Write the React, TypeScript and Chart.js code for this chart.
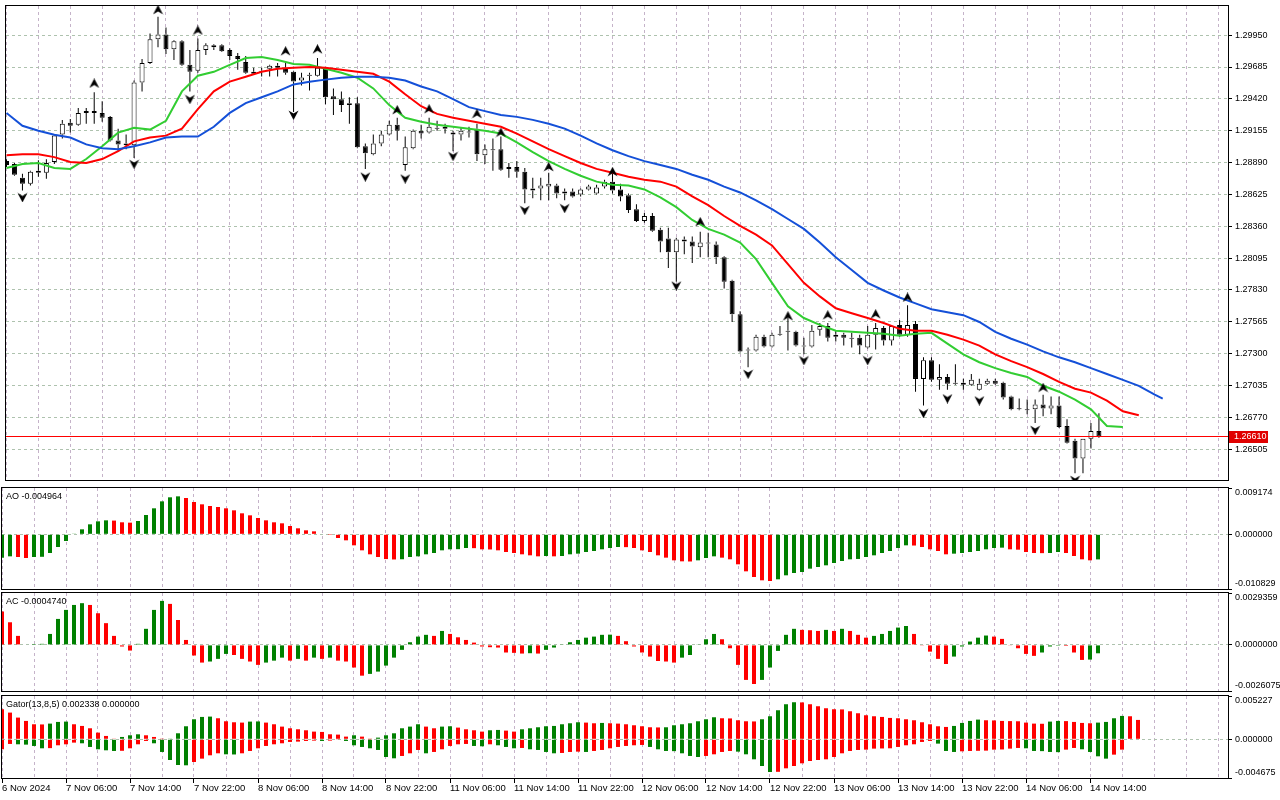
import { useEffect, useRef } from "react";
import { Chart, registerables } from "chart.js";

Chart.register(...registerables);

// ---------------- data (H1 bars, 6 Nov 22:00 .. 14 Nov 15:00) ----------------
const OPEN = [
  1.28902, 1.28877, 1.28764, 1.28714, 1.28821, 1.28805, 1.28894, 1.29123, 1.29221, 1.29205,
  1.29302, 1.29319, 1.29302, 1.2927, 1.29074, 1.29049, 1.29033, 1.29556, 1.29719, 1.29915,
  1.29956, 1.29833, 1.29899, 1.29703, 1.29654, 1.29826, 1.2985, 1.29866, 1.29826, 1.29776,
  1.29727, 1.29646, 1.29654, 1.2967, 1.29695, 1.29678, 1.29646, 1.29572, 1.29613, 1.29613,
  1.2967, 1.29441, 1.29417, 1.29368, 1.29384, 1.29025, 1.2896, 1.29049, 1.29123, 1.29205,
  1.28869, 1.29009, 1.29155, 1.29139, 1.2918, 1.29188, 1.29139, 1.29123, 1.29147, 1.29172,
  1.28951, 1.29, 1.29, 1.28837, 1.28853, 1.28813, 1.28674, 1.28674, 1.2869, 1.28698,
  1.28649, 1.28649, 1.28625, 1.28666, 1.28633, 1.2869, 1.28731, 1.28666, 1.28617, 1.28502,
  1.28404, 1.28445, 1.28331, 1.28257, 1.28143, 1.28249, 1.28233, 1.28184, 1.28225, 1.28208,
  1.28102, 1.27906, 1.27628, 1.27334, 1.27326, 1.27441, 1.27359, 1.27465, 1.2749, 1.27481,
  1.27367, 1.27359, 1.27498, 1.2753, 1.27441, 1.27457, 1.27432, 1.27432, 1.27351, 1.27457,
  1.27514, 1.27408, 1.27539, 1.27457, 1.27547, 1.27089, 1.27245, 1.27082, 1.27106, 1.27057,
  1.27057, 1.27041, 1.27, 1.27049, 1.27074, 1.27057, 1.26942, 1.26844, 1.26836, 1.26836,
  1.26877, 1.26844, 1.26869, 1.26697, 1.26575, 1.26428, 1.26591, 1.26656,
];
const HIGH = [
  1.28918, 1.28886, 1.28796, 1.28821, 1.2891, 1.28918, 1.29123, 1.29245, 1.29253, 1.29343,
  1.29343, 1.29474, 1.294, 1.29278, 1.29172, 1.29123, 1.29572, 1.29752, 1.29964, 1.30103,
  1.30013, 1.29907, 1.29907, 1.29826, 1.29923, 1.29882, 1.29874, 1.29874, 1.29842, 1.29801,
  1.29776, 1.29678, 1.29678, 1.29703, 1.29719, 1.29736, 1.29654, 1.29637, 1.29637, 1.2976,
  1.29678, 1.29507, 1.29482, 1.29433, 1.29433, 1.29049, 1.29123, 1.29155, 1.29237, 1.29262,
  1.29107, 1.29164, 1.29205, 1.29262, 1.29237, 1.29213, 1.29155, 1.2918, 1.29188, 1.29213,
  1.29041, 1.2909, 1.29107, 1.28886, 1.28902, 1.28845, 1.28764, 1.28764, 1.28805, 1.28714,
  1.28674, 1.28674, 1.28674, 1.28706, 1.28706, 1.28747, 1.28805, 1.28714, 1.28633, 1.28543,
  1.2847, 1.2847, 1.28347, 1.28347, 1.28265, 1.28274, 1.28274, 1.28314, 1.28306, 1.28233,
  1.2811, 1.27914, 1.27653, 1.27351, 1.27457, 1.27457, 1.27473, 1.2753, 1.27596, 1.2749,
  1.27432, 1.27539, 1.27555, 1.27555, 1.2749, 1.27473, 1.27473, 1.27457, 1.2753, 1.27555,
  1.2753, 1.27539, 1.27579, 1.27702, 1.27571, 1.27269, 1.27269, 1.27212, 1.27131, 1.27212,
  1.2709, 1.27131, 1.2709, 1.2709, 1.2709, 1.27065, 1.2695, 1.26926, 1.26917, 1.26917,
  1.26958, 1.26942, 1.26942, 1.26754, 1.26591, 1.26591, 1.26722, 1.26803,
];
const LOW = [
  1.28853, 1.2878, 1.28657, 1.28698, 1.28772, 1.28756, 1.28877, 1.2909, 1.29139, 1.29196,
  1.29213, 1.29213, 1.29229, 1.29066, 1.28984, 1.29, 1.28927, 1.29482, 1.29711, 1.2985,
  1.29793, 1.29744, 1.29695, 1.29482, 1.29637, 1.29785, 1.29826, 1.29809, 1.29744, 1.29662,
  1.29629, 1.29621, 1.29605, 1.29605, 1.29605, 1.29621, 1.29311, 1.29531, 1.2949, 1.29605,
  1.29376, 1.29286, 1.29311, 1.29213, 1.29009, 1.28837, 1.28951, 1.29025, 1.29115, 1.29074,
  1.28821, 1.29, 1.2909, 1.29131, 1.29155, 1.29131, 1.28984, 1.29074, 1.29098, 1.28902,
  1.28877, 1.28821, 1.28821, 1.28764, 1.28764, 1.28551, 1.28592, 1.28576, 1.28576, 1.28592,
  1.28576, 1.286, 1.28608, 1.28657, 1.28625, 1.28674, 1.28633, 1.28567, 1.2847, 1.28396,
  1.28388, 1.28314, 1.28143, 1.28012, 1.27898, 1.28127, 1.28053, 1.28102, 1.28102, 1.28045,
  1.27841, 1.27563, 1.2731, 1.27187, 1.27318, 1.27351, 1.27351, 1.27449, 1.27326, 1.27359,
  1.27294, 1.27351, 1.27449, 1.274, 1.274, 1.27367, 1.27351, 1.27294, 1.27343, 1.27334,
  1.27367, 1.27367, 1.27441, 1.27441, 1.26983, 1.26869, 1.27065, 1.27, 1.27, 1.27041,
  1.27, 1.27032, 1.26992, 1.27041, 1.27041, 1.26917, 1.26828, 1.26828, 1.26795, 1.26722,
  1.26779, 1.26795, 1.26681, 1.26551, 1.26305, 1.26305, 1.2651, 1.266,
];
const CLOSE = [
  1.28869, 1.28788, 1.28714, 1.28813, 1.28805, 1.28886, 1.29115, 1.29213, 1.29196, 1.29302,
  1.29319, 1.29302, 1.29262, 1.29074, 1.29041, 1.29033, 1.29556, 1.29719, 1.29915, 1.29956,
  1.29833, 1.29899, 1.29703, 1.29646, 1.29826, 1.29866, 1.29866, 1.29817, 1.29776, 1.29752,
  1.29637, 1.29629, 1.29646, 1.29695, 1.29678, 1.29637, 1.29564, 1.29597, 1.29621, 1.29678,
  1.29433, 1.29417, 1.29368, 1.29384, 1.29017, 1.28968, 1.29049, 1.29123, 1.29205, 1.29155,
  1.29017, 1.29155, 1.29131, 1.29188, 1.29172, 1.29172, 1.29123, 1.29155, 1.29139, 1.2896,
  1.29, 1.28992, 1.28829, 1.28853, 1.28813, 1.28666, 1.28657, 1.28698, 1.28714, 1.28633,
  1.28633, 1.28608, 1.28666, 1.2869, 1.28682, 1.28731, 1.28657, 1.28608, 1.28494, 1.28404,
  1.28445, 1.28322, 1.28233, 1.28143, 1.28249, 1.28233, 1.28192, 1.28225, 1.28217, 1.28102,
  1.27898, 1.27628, 1.27318, 1.27326, 1.27441, 1.27359, 1.27457, 1.27457, 1.27481, 1.27367,
  1.27359, 1.2749, 1.2753, 1.27432, 1.27457, 1.27432, 1.27424, 1.27367, 1.27457, 1.27514,
  1.27408, 1.2753, 1.27457, 1.27539, 1.27089, 1.27245, 1.27082, 1.27106, 1.27049, 1.27049,
  1.27041, 1.27082, 1.27049, 1.27074, 1.27049, 1.26934, 1.26836, 1.26836, 1.26828, 1.26877,
  1.26844, 1.26869, 1.26689, 1.26559, 1.26428, 1.26591, 1.26656, 1.2661,
];

// Alligator lines as drawn (already shifted forward), one value every LINE_STEP bars
const LINE_STEP = 2;
const JAW = [
  1.29303, 1.29196, 1.29155, 1.29122, 1.29098, 1.29041, 1.29009, 1.29001, 1.29025, 1.29058,
  1.29098, 1.29106, 1.29106, 1.29188, 1.29303, 1.29384, 1.29433, 1.29482, 1.2954, 1.29563,
  1.2958, 1.29596, 1.29604, 1.29604, 1.29596, 1.29572, 1.29523, 1.29482, 1.29417, 1.29351,
  1.29318, 1.29286, 1.2927, 1.29245, 1.29213, 1.29172, 1.29114, 1.2905, 1.28992, 1.28943,
  1.28902, 1.28869, 1.28837, 1.28788, 1.28747, 1.2869, 1.28641, 1.28576, 1.28502, 1.2842,
  1.28338, 1.28224, 1.28102, 1.27996, 1.27889, 1.27825, 1.27767, 1.27718, 1.27669, 1.27645,
  1.2762, 1.27563, 1.27481, 1.27424, 1.27375, 1.27318, 1.27269, 1.27228, 1.27179, 1.2713,
  1.27081, 1.27032, 1.26959,
];
const JAW_END_BAR = 145;
const JAW_END_VALUE = 1.26926;
const TEETH = [
  1.28951, 1.28959, 1.28959, 1.28935, 1.28894, 1.28886, 1.28919, 1.28984, 1.29066, 1.29098,
  1.29114, 1.29172, 1.29335, 1.29482, 1.29563, 1.29604, 1.29645, 1.2967, 1.29678, 1.29686,
  1.29678, 1.29662, 1.29645, 1.29629, 1.29563, 1.29458, 1.29359, 1.29295, 1.29262, 1.29237,
  1.29213, 1.29188, 1.29131, 1.29066, 1.29001, 1.28943, 1.28886, 1.28837, 1.28805, 1.28772,
  1.28747, 1.28731, 1.2869, 1.28608, 1.28535, 1.28445, 1.28363, 1.2829, 1.282, 1.28045,
  1.27889, 1.27776, 1.27677, 1.27636, 1.27596, 1.27555, 1.27506, 1.2749, 1.2749, 1.27457,
  1.27416, 1.27367, 1.27294, 1.27237, 1.27187, 1.2713, 1.27065, 1.27008, 1.26975, 1.26909,
  1.2682, 1.26787,
];
const LIPS = [
  1.28845, 1.28877, 1.28886, 1.28845, 1.28837, 1.28919, 1.29025, 1.29139, 1.2918, 1.29164,
  1.29237, 1.29482, 1.29612, 1.29645, 1.29703, 1.2976, 1.29768, 1.29744, 1.29711, 1.29703,
  1.2967, 1.29637, 1.29596, 1.29507, 1.29368, 1.29262, 1.29229, 1.29205, 1.29188, 1.29172,
  1.29155, 1.29131, 1.29058, 1.28976, 1.28902, 1.28837, 1.2878, 1.28731, 1.28706, 1.28698,
  1.28666, 1.286, 1.28519, 1.28412, 1.28338, 1.2829, 1.28224, 1.28086, 1.27889, 1.27693,
  1.27596, 1.27539, 1.2749, 1.27481, 1.27473, 1.27465, 1.27449, 1.27465, 1.27473, 1.27383,
  1.27294, 1.27228, 1.27179, 1.27138, 1.27106, 1.27032, 1.26983, 1.26917, 1.26836, 1.26697,
  1.26689,
];

// Fractal markers: bar index and price of the arrow
const FRACTAL_UP_BARS = [11, 19, 24, 35, 39, 49, 53, 59, 62, 68, 76, 87, 98, 103, 109, 113, 130];
const FRACTAL_UP_MARKS = [
  1.29548, 1.3016, 1.29989, 1.29817, 1.29833, 1.29327, 1.29335, 1.29295, 1.29139, 1.28853,
  1.28813, 1.28396, 1.27612, 1.2762, 1.27628, 1.27767, 1.27016,
];
const FRACTAL_DOWN_BARS = [2, 16, 23, 36, 45, 50, 56, 65, 70, 84, 93, 100, 108, 115, 118, 122, 129, 134];
const FRACTAL_DOWN_MARKS = [
  1.286, 1.28877, 1.29417, 1.29286, 1.28772, 1.28756, 1.28943, 1.28494, 1.2851, 1.27865,
  1.2713, 1.27244, 1.27244, 1.26804, 1.26926, 1.26909, 1.26664, 1.26248,
];

const AO = [
  -0.00462, -0.00436, -0.00449, -0.00469, -0.00449, -0.00445, -0.0037, -0.00251, -0.00132, 0.00013,
  0.00099, 0.00198, 0.00257, 0.00277, 0.00272, 0.00238, 0.00231, 0.00264, 0.00383, 0.00515,
  0.00653, 0.00733, 0.00752, 0.00719, 0.0064, 0.00594, 0.00561, 0.00541, 0.00515, 0.00475,
  0.00416, 0.00376, 0.00323, 0.00277, 0.00238, 0.00218, 0.00165, 0.00119, 0.00079, 0.00059,
  0.0001, -0.00002, -0.00073, -0.00119, -0.00218, -0.00317, -0.00396, -0.00449, -0.0049, -0.00498,
  -0.00494, -0.00449, -0.00436, -0.00396, -0.0037, -0.00317, -0.00297, -0.00294, -0.00271, -0.00274,
  -0.00297, -0.003, -0.00317, -0.0035, -0.0037, -0.00396, -0.00416, -0.00436, -0.00429, -0.00436,
  -0.00429, -0.00396, -0.00383, -0.0035, -0.0033, -0.00297, -0.00271, -0.00251, -0.00254, -0.00271,
  -0.00317, -0.0035, -0.00416, -0.00462, -0.00515, -0.00535, -0.00538, -0.00515, -0.00469, -0.00436,
  -0.00462, -0.00495, -0.00594, -0.00733, -0.00845, -0.00911, -0.00924, -0.00891, -0.00812, -0.00766,
  -0.00746, -0.0068, -0.00647, -0.00614, -0.00568, -0.00528, -0.00495, -0.00488, -0.00449, -0.00416,
  -0.0037, -0.0033, -0.00271, -0.00218, -0.00222, -0.00251, -0.00297, -0.0033, -0.00396, -0.00383,
  -0.0037, -0.0035, -0.0033, -0.00297, -0.00271, -0.00264, -0.00297, -0.00304, -0.0035, -0.0037,
  -0.00373, -0.0037, -0.0035, -0.0037, -0.00429, -0.00495, -0.00515, -0.004964,
];
const AO_BEFORE = -0.0047;

const AC = [
  0.00189, 0.00128, 0.00051, 0.00003, 0.00005, 0.00006, 0.00062, 0.00147, 0.00198, 0.00226,
  0.00236, 0.00226, 0.00179, 0.00123, 0.00051, -0.00009, -0.00032, 0.00006, 0.00091, 0.00198,
  0.00249, 0.00232, 0.00141, 0.00028, -0.0006, -0.001, -0.00094, -0.00079, -0.00051, -0.00057,
  -0.00079, -0.00094, -0.00113, -0.001, -0.00089, -0.00072, -0.00089, -0.00079, -0.00089, -0.00072,
  -0.00079, -0.00072, -0.00089, -0.00094, -0.00128, -0.00174, -0.00164, -0.00151, -0.00117, -0.00072,
  -0.00028, 0.00015, 0.00047, 0.00057, 0.00051, 0.00079, 0.00062, 0.00043, 0.00028, 0.00013,
  -0.00009, -0.00013, -0.00015, -0.00043, -0.00045, -0.00049, -0.00047, -0.00049, -0.00028, -0.00015,
  0.00002, 0.00015, 0.00028, 0.00041, 0.00047, 0.00057, 0.00058, 0.00051, 0.00021, -0.00009,
  -0.00043, -0.00066, -0.00091, -0.00094, -0.001, -0.00072, -0.00057, 0.00002, 0.00032, 0.00062,
  0.00032, -0.00019, -0.00113, -0.00198, -0.00221, -0.00198, -0.00128, -0.00034, 0.00057, 0.00091,
  0.00085, 0.00083, 0.00079, 0.00085, 0.00079, 0.00091, 0.00079, 0.00057, 0.00041, 0.00051,
  0.00062, 0.00079, 0.00098, 0.00107, 0.00062, -0.00004, -0.00038, -0.00079, -0.00108, -0.00066,
  -0.00009, 0.00019, 0.00041, 0.00053, 0.00047, 0.00034, -0.00002, -0.00019, -0.00051, -0.00062,
  -0.00043, -0.00009, -0.00005, -0.00006, -0.00043, -0.00085, -0.00083, -0.000474,
];
const AC_BEFORE = 0.002;

const GATOR_UP = [
  0.003627, 0.003224, 0.00262, 0.002217, 0.001814, 0.001793, 0.001894, 0.002096, 0.002136, 0.001814,
  0.001612, 0.00133, 0.000806, 0.000403, 0.000081, 0.000282, 0.000484, 0.000605, 0.000484, 0.000282,
  0.00002, 0.00004, 0.000725, 0.001572, 0.002418, 0.0027, 0.00274, 0.002539, 0.002176, 0.002055,
  0.002015, 0.002136, 0.002156, 0.002015, 0.001814, 0.001531, 0.00133, 0.001209, 0.001088, 0.000927,
  0.000887, 0.000605, 0.000564, 0.000322, 0.000484, 0.000322, 0.00001, 0.000202, 0.000484, 0.000725,
  0.00133, 0.001531, 0.001814, 0.001531, 0.00133, 0.001531, 0.001572, 0.001411, 0.001209, 0.001088,
  0.000927, 0.001088, 0.001128, 0.001048, 0.000927, 0.001209, 0.00133, 0.001451, 0.001572, 0.001612,
  0.001814, 0.001934, 0.002055, 0.002015, 0.001934, 0.001975, 0.001934, 0.001894, 0.001814, 0.001693,
  0.001572, 0.001451, 0.001431, 0.001451, 0.001693, 0.001814, 0.001934, 0.002176, 0.002418, 0.00266,
  0.002539, 0.002519, 0.002297, 0.002176, 0.002156, 0.002418, 0.002781, 0.003506, 0.004232, 0.004473,
  0.004453, 0.004232, 0.00399, 0.003748, 0.003627, 0.003607, 0.003385, 0.003143, 0.002902, 0.002781,
  0.0027, 0.002579, 0.002539, 0.002418, 0.002297, 0.002055, 0.001814, 0.001572, 0.001491, 0.001612,
  0.001975, 0.002217, 0.002378, 0.002297, 0.002277, 0.002217, 0.002196, 0.002176, 0.002015, 0.001894,
  0.001874, 0.002136, 0.002217, 0.002196, 0.002096, 0.001975, 0.001934, 0.002015, 0.002096, 0.002539,
  0.002821, 0.002781, 0.002338,
];
const GATOR_DOWN = [
  -0.001209, -0.000564, -0.000605, -0.000645, -0.000806, -0.001088, -0.001068, -0.000725, -0.000605, -0.000403,
  -0.000484, -0.000927, -0.001209, -0.00133, -0.001411, -0.00139, -0.001088, -0.000605, -0.000202, -0.000484,
  -0.001531, -0.002499, -0.003103, -0.003143, -0.00274, -0.002337, -0.001934, -0.001693, -0.001814, -0.001834,
  -0.001693, -0.001411, -0.001088, -0.000806, -0.000605, -0.000484, -0.000322, -0.000282, -0.000202, -0.000161,
  -0.000202, -0.000161, -0.000081, -0.000202, -0.000725, -0.000927, -0.001088, -0.00129, -0.002136, -0.002297,
  -0.002015, -0.001693, -0.00129, -0.001693, -0.001531, -0.001209, -0.000806, -0.000605, -0.000564, -0.000806,
  -0.000846, -0.000605, -0.000725, -0.000927, -0.001088, -0.001048, -0.001209, -0.00129, -0.001531, -0.001693,
  -0.001652, -0.001531, -0.001491, -0.001531, -0.001411, -0.00129, -0.001088, -0.000927, -0.000806, -0.000725,
  -0.000685, -0.000927, -0.001209, -0.001411, -0.001431, -0.001693, -0.002015, -0.002136, -0.002015, -0.001814,
  -0.001531, -0.001411, -0.001491, -0.001814, -0.002418, -0.003224, -0.003949, -0.003929, -0.003506, -0.003224,
  -0.002902, -0.00262, -0.002499, -0.002418, -0.002136, -0.001693, -0.001411, -0.00129, -0.001249, -0.001128,
  -0.001108, -0.001088, -0.000927, -0.000725, -0.000605, -0.000322, -0.000202, -0.000524, -0.001411, -0.001531,
  -0.001451, -0.001411, -0.00139, -0.00137, -0.001249, -0.001229, -0.001128, -0.001048, -0.001088, -0.001411,
  -0.001431, -0.001531, -0.001552, -0.001249, -0.001048, -0.001209, -0.001531, -0.002055, -0.002337, -0.001854,
  -0.001249,
];
const GATOR_UP_BEFORE = 0.0038;
const GATOR_DOWN_BEFORE = -0.0013;

const TIME_LABEL_BARS = [0, 8, 16, 24, 32, 40, 48, 56, 64, 72, 80, 88, 96, 104, 112, 120, 128, 136];
const TIME_LABELS = [
  "6 Nov 2024", "7 Nov 06:00", "7 Nov 14:00", "7 Nov 22:00", "8 Nov 06:00", "8 Nov 14:00",
  "8 Nov 22:00", "11 Nov 06:00", "11 Nov 14:00", "11 Nov 22:00", "12 Nov 06:00", "12 Nov 14:00",
  "12 Nov 22:00", "13 Nov 06:00", "13 Nov 14:00", "13 Nov 22:00", "14 Nov 06:00", "14 Nov 14:00",
];
const PRICE_TICKS = [
  1.26505, 1.2677, 1.27035, 1.273, 1.27565, 1.2783, 1.28095, 1.2836, 1.28625, 1.2889,
  1.29155, 1.2942, 1.29685, 1.2995,
];
const PRICE_MIN = 1.262481;
const PRICE_MAX = 1.301927;
const AO_MIN = -0.010829, AO_MAX = 0.009174;
const AC_MIN = -0.0026075, AC_MAX = 0.0029359;
const GATOR_MIN = -0.004675, GATOR_MAX = 0.005227;

// ---------------- styling / layout ----------------
const FAMILY = '"Liberation Sans", Arial, Helvetica, sans-serif';
const GREEN = "#008000";
const RED = "#ff0000";
const JAW_COLOR = "#1450d8";
const TEETH_COLOR = "#ff0000";
const LIPS_COLOR = "#32cd32";
const GRID_V = "#c5b3c9";
const GRID_H = "#aec2ae";
const CANVAS_W = 1280;
const AXIS_W = 52;
const PLOT_LEFT = 2;
const BAR_PX = 8;
const PLOT_W = CANVAS_W - AXIS_W - PLOT_LEFT;
const X_MIN_MAIN = -0.0625;
const X_MIN_SUB = 0;
const GRID_BARS = Array.from({ length: 39 }, (_, k) => k * 4);

Chart.defaults.font.family = FAMILY;

function riseColors(vals: number[], before: number, useAbs: boolean) {
  return vals.map((v, i) => {
    const prev = i === 0 ? before : vals[i - 1];
    const a = useAbs ? Math.abs(v) : v;
    const b = useAbs ? Math.abs(prev) : prev;
    return a > b ? GREEN : RED;
  });
}

function makeX(xMin: number, withLabels: boolean): any {
  return {
    type: "linear",
    position: "bottom",
    min: xMin,
    max: xMin + PLOT_W / BAR_PX,
    bounds: "data",
    offset: false,
    afterBuildTicks: (s: any) => {
      s.ticks = GRID_BARS.map((v) => ({ value: v }));
    },
    afterFit: (s: any) => {
      s.height = withLabels ? 22 : 0;
      s.paddingLeft = 0;
      s.paddingRight = 0;
    },
    grid: {
      display: true,
      color: GRID_V,
      lineWidth: 1,
      offset: false,
      drawOnChartArea: true,
      drawTicks: withLabels,
      tickLength: 5,
      tickWidth: 1,
      tickColor: (c: any) =>
        c.tick && TIME_LABEL_BARS.includes(c.tick.value) ? "#000000" : "rgba(0,0,0,0)",
    },
    border: { display: false, dash: [3, 3] },
    ticks: {
      display: withLabels,
      autoSkip: false,
      maxRotation: 0,
      minRotation: 0,
      align: "start",
      padding: 0,
      color: "#000000",
      font: { family: FAMILY, size: 9.5 },
      callback: (v: number) => {
        const k = TIME_LABEL_BARS.indexOf(v);
        return k >= 0 ? TIME_LABELS[k] : "";
      },
    },
  };
}

function makeSubY(min: number, max: number): any {
  return {
    type: "linear",
    position: "right",
    min,
    max,
    bounds: "data",
    afterBuildTicks: (s: any) => {
      s.ticks = [min, 0, max].map((v) => ({ value: v }));
    },
    afterFit: (s: any) => {
      s.width = AXIS_W;
      s.paddingTop = 0;
      s.paddingBottom = 0;
    },
    grid: {
      color: (c: any) => (c.tick && c.tick.value === 0 ? GRID_H : "rgba(0,0,0,0)"),
      drawTicks: true,
      tickLength: 4,
      tickColor: "#000000",
    },
    border: { display: false, dash: [3, 3] },
    ticks: { display: false },
  };
}

const framePlugin = {
  id: "frame",
  afterDraw(chart: any) {
    const { ctx, chartArea: a } = chart;
    ctx.save();
    ctx.strokeStyle = "#000000";
    ctx.lineWidth = 1;
    ctx.strokeRect(a.left - 0.5, a.top - 0.5, a.right - a.left + 1, a.bottom - a.top + 1);
    ctx.restore();
  },
};

function panelTextPlugin(title: string, min: number, max: number, decimals: number) {
  return {
    id: "panelText",
    afterDraw(chart: any) {
      const { ctx, chartArea: a, scales } = chart;
      ctx.save();
      ctx.font = `9px ${FAMILY}`;
      ctx.fillStyle = "#000000";
      ctx.textAlign = "left";
      ctx.textBaseline = "middle";
      ctx.fillText(title, 6, a.top + 9);
      const x = a.right + 7;
      ctx.fillText(max.toFixed(decimals), x, a.top + 5);
      ctx.fillText((0).toFixed(decimals), x, scales.y.getPixelForValue(0));
      ctx.fillText(min.toFixed(decimals), x, a.bottom - 5);
      ctx.restore();
    },
  };
}

function arrowImage(up: boolean) {
  const c = document.createElement("canvas");
  c.width = 11;
  c.height = 10;
  const g = c.getContext("2d") as CanvasRenderingContext2D;
  g.fillStyle = "#000000";
  g.beginPath();
  if (up) {
    g.moveTo(5.5, 0);
    g.lineTo(10.5, 9.5);
    g.lineTo(5.5, 6.5);
    g.lineTo(0.5, 9.5);
  } else {
    g.moveTo(5.5, 10);
    g.lineTo(10.5, 0.5);
    g.lineTo(5.5, 3.5);
    g.lineTo(0.5, 0.5);
  }
  g.closePath();
  g.fill();
  return c;
}

const commonOptions: any = {
  responsive: false,
  animation: false,
  events: [],
  plugins: { legend: { display: false }, tooltip: { enabled: false } },
};

export default function App() {
  const mainRef = useRef<HTMLCanvasElement>(null);
  const aoRef = useRef<HTMLCanvasElement>(null);
  const acRef = useRef<HTMLCanvasElement>(null);
  const gatorRef = useRef<HTMLCanvasElement>(null);

  useEffect(() => {
    const charts: Chart[] = [];
    const bars = OPEN.map((_, i) => i);
    const lastPrice = CLOSE[CLOSE.length - 1];
    const bodyTop = (i: number) => Math.max(OPEN[i], CLOSE[i]);
    const bodyBottom = (i: number) => Math.min(OPEN[i], CLOSE[i]);

    const pricePlugin = {
      id: "priceTag",
      afterDraw(chart: any) {
        const { ctx, chartArea: a, scales } = chart;
        const y = Math.round(scales.y.getPixelForValue(lastPrice));
        ctx.save();
        ctx.fillStyle = "#e00000";
        ctx.fillRect(a.right + 1, y - 6, 39, 12);
        ctx.fillStyle = "#ffffff";
        ctx.font = `9px ${FAMILY}`;
        ctx.textAlign = "left";
        ctx.textBaseline = "middle";
        ctx.fillText(lastPrice.toFixed(5), a.right + 6, y);
        ctx.restore();
      },
    };

    const xMainMax = X_MIN_MAIN + PLOT_W / BAR_PX;
    const lineDs = (vals: number[], color: string, end?: { x: number; y: number }) => {
      const pts = vals.map((v, k) => ({ x: k * LINE_STEP, y: v }));
      if (end) pts.push(end);
      return {
        type: "line",
        data: pts,
        borderColor: color,
        borderWidth: 2,
        pointRadius: 0,
        tension: 0,
        order: 2,
      };
    };
    const wickDs = (data: any[]) => ({
      type: "bar",
      data,
      backgroundColor: "#000000",
      borderWidth: 0,
      barThickness: 1,
      grouped: false,
      inflateAmount: 0,
      order: 6,
    });

    charts.push(
      new Chart(mainRef.current as HTMLCanvasElement, {
        type: "bar",
        data: {
          datasets: [
            wickDs(bars.map((i) => ({ x: i, y: [bodyTop(i), HIGH[i]] }))),
            wickDs(bars.map((i) => ({ x: i, y: [LOW[i], bodyBottom(i)] }))),
            {
              type: "bar",
              data: bars.map((i) => ({ x: i, y: [OPEN[i], CLOSE[i]] })),
              backgroundColor: bars.map((i) => (CLOSE[i] > OPEN[i] ? "#ffffff" : "#000000")),
              borderColor: "#000000",
              borderWidth: 1,
              borderSkipped: false,
              barThickness: 5,
              minBarLength: 1,
              grouped: false,
              inflateAmount: 0,
              order: 5,
            },
            {
              type: "line",
              data: [
                { x: X_MIN_MAIN, y: lastPrice },
                { x: xMainMax, y: lastPrice },
              ],
              borderColor: "#ff0000",
              borderWidth: 1,
              pointRadius: 0,
              order: 4,
            },
            lineDs(JAW, JAW_COLOR, { x: JAW_END_BAR, y: JAW_END_VALUE }),
            lineDs(TEETH, TEETH_COLOR),
            lineDs(LIPS, LIPS_COLOR),
            {
              type: "line",
              showLine: false,
              data: FRACTAL_UP_BARS.map((b, k) => ({ x: b, y: FRACTAL_UP_MARKS[k] })),
              pointStyle: arrowImage(true),
              pointRadius: 5,
              order: 1,
            },
            {
              type: "line",
              showLine: false,
              data: FRACTAL_DOWN_BARS.map((b, k) => ({ x: b, y: FRACTAL_DOWN_MARKS[k] })),
              pointStyle: arrowImage(false),
              pointRadius: 5,
              order: 1,
            },
          ] as any,
        },
        options: {
          ...commonOptions,
          layout: { padding: { left: PLOT_LEFT, top: 2, right: 0, bottom: 1 } },
          scales: {
            x: makeX(X_MIN_MAIN, false),
            y: {
              type: "linear",
              position: "right",
              min: PRICE_MIN,
              max: PRICE_MAX,
              bounds: "data",
              afterBuildTicks: (s: any) => {
                s.ticks = PRICE_TICKS.map((v) => ({ value: v }));
              },
              afterFit: (s: any) => {
                s.width = AXIS_W;
                s.paddingTop = 0;
                s.paddingBottom = 0;
              },
              grid: { color: GRID_H, drawTicks: true, tickLength: 4, tickColor: "#000000" },
              border: { display: false, dash: [3, 3] },
              ticks: {
                padding: 3,
                color: "#000000",
                font: { family: FAMILY, size: 9 },
                callback: (v: number) => v.toFixed(5),
              },
            },
          },
        },
        plugins: [framePlugin, pricePlugin],
      } as any)
    );

    const histDs = (vals: number[], colors: string[]) => ({
      data: vals.map((v, i) => ({ x: i, y: v })),
      backgroundColor: colors,
      borderWidth: 0,
      barThickness: 4,
      grouped: false,
      inflateAmount: 0,
    });

    charts.push(
      new Chart(aoRef.current as HTMLCanvasElement, {
        type: "bar",
        data: { datasets: [histDs(AO, riseColors(AO, AO_BEFORE, false))] },
        options: {
          ...commonOptions,
          layout: { padding: { left: PLOT_LEFT, top: 2, right: 0, bottom: 2 } },
          scales: { x: makeX(X_MIN_SUB, false), y: makeSubY(AO_MIN, AO_MAX) },
        },
        plugins: [
          framePlugin,
          panelTextPlugin(`AO ${AO[AO.length - 1].toFixed(6)}`, AO_MIN, AO_MAX, 6),
        ],
      } as any)
    );

    charts.push(
      new Chart(acRef.current as HTMLCanvasElement, {
        type: "bar",
        data: { datasets: [histDs(AC, riseColors(AC, AC_BEFORE, false))] },
        options: {
          ...commonOptions,
          layout: { padding: { left: PLOT_LEFT, top: 2, right: 0, bottom: 2 } },
          scales: { x: makeX(X_MIN_SUB, false), y: makeSubY(AC_MIN, AC_MAX) },
        },
        plugins: [
          framePlugin,
          panelTextPlugin(`AC ${AC[AC.length - 1].toFixed(7)}`, AC_MIN, AC_MAX, 7),
        ],
      } as any)
    );

    const lastUp = GATOR_UP.length - 1;
    const lastDown = GATOR_DOWN[lastUp] ?? 0;
    charts.push(
      new Chart(gatorRef.current as HTMLCanvasElement, {
        type: "bar",
        data: {
          datasets: [
            histDs(GATOR_UP, riseColors(GATOR_UP, GATOR_UP_BEFORE, true)),
            histDs(GATOR_DOWN, riseColors(GATOR_DOWN, GATOR_DOWN_BEFORE, true)),
          ],
        },
        options: {
          ...commonOptions,
          layout: { padding: { left: PLOT_LEFT, top: 3, right: 0, bottom: 0 } },
          scales: { x: makeX(X_MIN_SUB, true), y: makeSubY(GATOR_MIN, GATOR_MAX) },
        },
        plugins: [
          framePlugin,
          panelTextPlugin(
            `Gator(13,8,5) ${GATOR_UP[lastUp].toFixed(6)} ${Math.abs(lastDown).toFixed(6)}`,
            GATOR_MIN,
            GATOR_MAX,
            6
          ),
        ],
      } as any)
    );

    return () => charts.forEach((c) => c.destroy());
  }, []);

  const cv = (top: number, height: number): any => ({
    position: "absolute",
    left: 0,
    top,
    width: CANVAS_W,
    height,
    display: "block",
  });

  return (
    <div
      style={{
        position: "absolute",
        left: 0,
        top: 0,
        width: 1280,
        height: 800,
        background: "#ffffff",
        overflow: "hidden",
      }}
    >
      <canvas ref={mainRef} width={CANVAS_W} height={486} style={cv(0, 486)} />
      <canvas ref={aoRef} width={CANVAS_W} height={105} style={cv(486, 105)} />
      <canvas ref={acRef} width={CANVAS_W} height={102} style={cv(591, 102)} />
      <canvas ref={gatorRef} width={CANVAS_W} height={107} style={cv(693, 107)} />
    </div>
  );
}
